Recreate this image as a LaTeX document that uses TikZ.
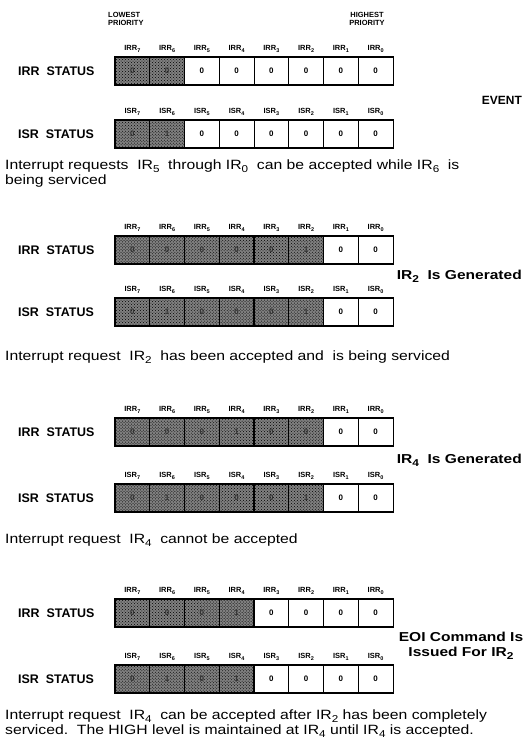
\documentclass[tikz,border=0pt]{standalone}
\usepackage{fontspec}
\setmainfont{Liberation Sans}
\newfontfamily\bodyfont[FakeStretch=1.17]{Liberation Sans}
\newfontfamily\widebold[FakeStretch=1.2]{Liberation Sans Bold}
\usetikzlibrary{patterns}
\newcommand{\sbx}[1]{\raisebox{-0.4ex}{\fontsize{10}{10}\selectfont #1}}
\newcommand{\lsb}[1]{\raisebox{-0.35ex}{\fontsize{5.5}{5.5}\selectfont #1}}
\tikzset{
  cellw/.style={draw, line width=0.8pt, minimum width=34.75bp, minimum height=27bp, inner sep=0pt,
    font=\bfseries\fontsize{8}{8}\selectfont},
  shadedcell/.style={cellw, line width=1.1pt, preaction={fill=black!50}, pattern=crosshatch dots, pattern color=black,
    text=black!80},
  outerbox/.style={draw, line width=1.8pt},
  reglab/.style={font=\bfseries\fontsize{7.5}{7.5}\selectfont, inner sep=0pt},
  statlab/.style={font=\bfseries\fontsize{12.5}{14}\selectfont, anchor=west, inner sep=0pt},
  evlab/.style={font=\widebold\fontsize{13}{15}\selectfont, inner sep=0pt},
  body/.style={font=\bodyfont\fontsize{13.5}{14.5}\selectfont, anchor=north west, align=left, inner sep=0pt},
}
% #1 name, #2 centre y, #3 prefix, #4 number of shaded cells, #5 values (bit 7 first)
\newcommand{\regrow}[5]{%
  \foreach \v [count=\i from 0] in {#5} {%
    \pgfmathtruncatemacro\bit{7-\i}%
    \ifnum\i<#4\relax
      \node[shadedcell] (#1-\bit) at (115+34.75*\i+17.375, #2) {\v};
    \else
      \node[cellw] (#1-\bit) at (115+34.75*\i+17.375, #2) {\v};
    \fi
    \node[reglab] (#1-l\bit) at (115+34.75*\i+17.375, #2-22) {#3\lsb{\bit}};
  }
  \draw[outerbox] (#1-7.north west) rectangle (#1-0.south east);
}
\begin{document}
\begin{tikzpicture}[x=1bp,y=-1bp]
\useasboundingbox[fill=white] (0,0) rectangle (524,741);
% Panel 1
\node[reglab, anchor=west, align=left] (low) at (108,19) {LOWEST\\PRIORITY};
\node[reglab, align=center] (high) at (367,19) {HIGHEST\\PRIORITY};
\regrow{airr}{71}{IRR}{2}{0,0,0,0,0,0,0,0}
\regrow{aisr}{134}{ISR}{2}{0,1,0,0,0,0,0,0}
\node[statlab] (airrs) at (18,71) {IRR\ \ STATUS};
\node[statlab] (aisrs) at (18,134) {ISR\ \ STATUS};
\node[font=\bfseries\fontsize{12}{14}\selectfont, inner sep=0pt, anchor=east] (event) at (522,100) {EVENT};
\node[body] (atext) at (5,160) {Interrupt requests\ \ IR\sbx{5}\ \ through IR\sbx{0}\ \ can be accepted while IR\sbx{6}\ \ is\\being serviced};
% Panel 2
\regrow{birr}{250}{IRR}{6}{0,0,0,0,0,1,0,0}
\regrow{bisr}{312}{ISR}{6}{0,1,0,0,0,1,0,0}
\node[statlab] (birrs) at (18,250) {IRR\ \ STATUS};
\node[statlab] (bisrs) at (18,312) {ISR\ \ STATUS};
\node[evlab, anchor=east] (ev2) at (522,276) {IR\sbx{2}\ \ Is Generated};
\node[body] (btext) at (5,351) {Interrupt request\ \ IR\sbx{2}\ \ has been accepted and\ \ is being serviced};
% Panel 3
\regrow{cirr}{432}{IRR}{6}{0,0,0,1,0,0,0,0}
\regrow{cisr}{498}{ISR}{6}{0,1,0,0,0,1,0,0}
\node[statlab] (cirrs) at (18,432) {IRR\ \ STATUS};
\node[statlab] (cisrs) at (18,498) {ISR\ \ STATUS};
\node[evlab, anchor=east] (ev3) at (522,460) {IR\sbx{4}\ \ Is Generated};
\node[body] (ctext) at (5,534) {Interrupt request\ \ IR\sbx{4}\ \ cannot be accepted};
% Panel 4
\regrow{dirr}{613}{IRR}{4}{0,0,0,1,0,0,0,0}
\regrow{disr}{679}{ISR}{4}{0,1,0,1,0,0,0,0}
\node[statlab] (dirrs) at (18,613) {IRR\ \ STATUS};
\node[statlab] (disrs) at (18,679) {ISR\ \ STATUS};
\node[evlab, align=center] (ev4) at (461,646) {EOI Command Is\\Issued For IR\sbx{2}};
\node[body] (dtext) at (5,710) {Interrupt request\ \ IR\sbx{4}\ \ can be accepted after IR\sbx{2} has been completely\\serviced.\ \ The HIGH level is maintained at IR\sbx{4} until IR\sbx{4} is accepted.};
\end{tikzpicture}
\end{document}
